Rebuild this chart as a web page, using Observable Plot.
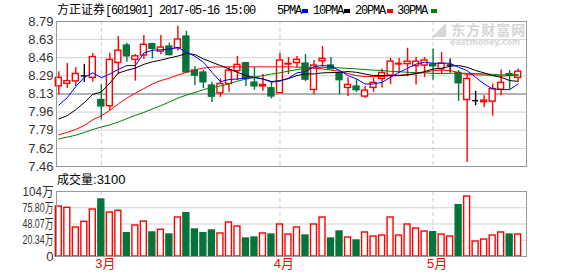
<!DOCTYPE html>
<html><head><meta charset="utf-8">
<script src="https://cdn.jsdelivr.net/npm/d3@7"></script>
<script src="https://cdn.jsdelivr.net/npm/@observablehq/plot@0.6"></script>
<style>
body{margin:0;background:#fff;}
#wrap{position:relative;width:578px;height:276px;overflow:hidden;font-family:"Liberation Sans",Arial,"Noto Sans CJK SC",sans-serif;}
.abs{position:absolute;white-space:nowrap;line-height:14px;color:#000;}
.mono{font-family:"Liberation Mono","DejaVu Sans Mono","Noto Sans CJK SC",monospace;font-size:12px;letter-spacing:-1.2px;}
.cjk{font-family:"Noto Sans CJK SC",sans-serif;font-size:12px;}
.sq{position:absolute;width:6px;height:4px;top:9px;}
</style></head><body><div id="wrap">
<div class="abs" style="left:432px;top:22px;height:14px;color:#d6d6d6;font-family:'Noto Sans CJK SC',sans-serif;font-size:14px;font-weight:bold;line-height:14px;letter-spacing:1px">◢ 东方财富网</div>
<div class="abs" style="left:450px;top:39px;height:8px;color:#d9d9d9;font-family:'DejaVu Sans',sans-serif;font-size:8px;font-weight:bold;line-height:8px">eastmoney.com</div>
</div>
<script>
// categories: trading-day index (Feb 22 2017 .. May 16 2017)
const days = d3.range(55);
const monthIdx = [5, 26, 44];
const monthLabels = ["3月", "4月", "5月"];

const open  = [8.195,8.218,8.240,8.291,8.273,8.070,8.013,8.410,8.569,8.438,8.478,8.581,8.514,8.560,8.546,8.652,8.340,8.321,8.202,8.131,8.217,8.335,8.407,8.229,8.195,8.177,8.133,8.396,8.409,8.404,8.162,8.425,8.386,8.315,8.181,8.193,8.101,8.181,8.263,8.294,8.396,8.399,8.381,8.386,8.395,8.353,8.390,8.318,8.070,8.064,8.050,8.055,8.165,8.307,8.273];
const high  = [8.330,8.404,8.367,8.397,8.496,8.211,8.499,8.652,8.591,8.487,8.661,8.590,8.661,8.592,8.747,8.701,8.376,8.340,8.232,8.263,8.370,8.468,8.413,8.370,8.303,8.239,8.499,8.459,8.468,8.487,8.432,8.560,8.459,8.326,8.275,8.257,8.193,8.271,8.355,8.453,8.453,8.545,8.459,8.459,8.537,8.505,8.445,8.340,8.300,8.151,8.110,8.217,8.346,8.340,8.355];
const low   = [8.119,8.177,8.193,8.232,8.232,7.889,7.972,8.303,8.416,8.243,8.441,8.447,8.484,8.475,8.520,8.318,8.202,8.174,8.048,8.094,8.140,8.248,8.193,8.160,8.151,8.080,8.128,8.303,8.363,8.239,8.119,8.370,8.349,8.119,8.101,8.140,8.085,8.140,8.179,8.211,8.312,8.285,8.208,8.275,8.252,8.303,8.318,8.057,7.497,8.018,8.000,7.921,8.110,8.165,8.238];
const close = [8.273,8.243,8.309,8.291,8.464,8.011,8.438,8.523,8.471,8.471,8.576,8.539,8.551,8.482,8.625,8.324,8.294,8.232,8.101,8.217,8.340,8.392,8.263,8.195,8.208,8.103,8.432,8.402,8.438,8.257,8.386,8.447,8.353,8.252,8.208,8.160,8.156,8.227,8.318,8.422,8.402,8.422,8.422,8.432,8.379,8.404,8.390,8.223,8.263,8.064,8.064,8.170,8.227,8.294,8.330];
// volume in 万
const volume = [77.9,75.7,42.1,51.8,72.8,89.9,67.7,70.6,32.4,45.5,52.3,33.6,38.2,30.1,59.2,66.5,38.7,32.4,37.0,31.9,50.6,43.8,23.3,25.0,31.9,30.1,47.2,30.1,42.1,28.4,47.2,59.2,23.3,35.3,25.0,19.9,33.6,26.7,28.4,59.2,28.4,47.2,40.4,35.3,34.1,30.1,26.7,80.2,95.0,18.2,21.6,28.4,33.6,30.1,30.1];

const ma5  = [8.023,8.092,8.193,8.278,8.319,8.275,8.308,8.351,8.386,8.386,8.501,8.526,8.530,8.537,8.551,8.510,8.471,8.416,8.324,8.239,8.257,8.263,8.271,8.275,8.263,8.234,8.243,8.271,8.319,8.331,8.377,8.386,8.379,8.340,8.294,8.263,8.217,8.217,8.232,8.278,8.324,8.361,8.399,8.416,8.407,8.407,8.407,8.370,8.340,8.278,8.217,8.172,8.165,8.165,8.217];
const ma10 = [7.896,7.926,7.981,8.046,8.122,8.144,8.225,8.317,8.342,8.363,8.397,8.420,8.436,8.455,8.473,8.496,8.487,8.447,8.416,8.386,8.355,8.324,8.294,8.278,8.263,8.239,8.248,8.266,8.294,8.309,8.309,8.319,8.321,8.324,8.331,8.324,8.308,8.294,8.294,8.294,8.294,8.300,8.312,8.331,8.355,8.361,8.379,8.386,8.370,8.340,8.319,8.294,8.278,8.248,8.241];
const ma20 = [7.750,7.773,7.800,7.837,7.889,7.926,7.975,8.034,8.087,8.133,8.174,8.217,8.248,8.271,8.298,8.324,8.346,8.363,8.372,8.374,8.374,8.374,8.374,8.374,8.374,8.374,8.374,8.374,8.372,8.367,8.363,8.355,8.344,8.335,8.312,8.294,8.285,8.285,8.285,8.294,8.298,8.303,8.312,8.324,8.340,8.344,8.340,8.321,8.303,8.300,8.300,8.294,8.289,8.294,8.294];
const ma30 = [7.712,7.730,7.747,7.772,7.800,7.822,7.842,7.868,7.899,7.929,7.956,7.988,8.018,8.052,8.087,8.115,8.138,8.165,8.184,8.199,8.216,8.243,8.262,8.280,8.294,8.308,8.319,8.335,8.349,8.358,8.365,8.367,8.367,8.365,8.360,8.355,8.349,8.344,8.340,8.333,8.329,8.324,8.321,8.319,8.315,8.312,8.315,8.315,8.315,8.312,8.309,8.306,8.300,8.301,8.303];

const priceTicks  = [7.46, 7.626, 7.793, 7.959, 8.125, 8.291, 8.458, 8.624, 8.79];
const priceLabels = ["7.46","7.62","7.79","7.96","8.13","8.29","8.46","8.63","8.79"];
const volTicks  = [-7.39, 20.34, 48.07, 75.80, 103.53];
const volLabels = ["0","20.34万","48.07万","75.80万","104万"];

const RED = "#f00", GREEN = "#06743a", BLACK = "#000";
const HW = 0.35; // half body width, in day units
const rows = days.map((d, k) => ({i: d, o: open[k], h: high[k], l: low[k], c: close[k], v: volume[k],
  m5: ma5[k], m10: ma10[k], m20: ma20[k], m30: ma30[k]}));
const col = d => d.c > d.o ? RED : d.c < d.o ? GREEN : BLACK;
const left = d => d.i - HW, right = d => d.i + HW;

const xOpt = () => ({type: "linear", domain: [-0.27, 54.98], axis: null});
const baseStyle = {background: "transparent", fontFamily: "'Liberation Sans',Arial,'Noto Sans CJK SC',sans-serif", fontSize: "13px", color: "#333", overflow: "visible"};

const pLab = new Map(priceTicks.map((v, k) => [v, priceLabels[k]]));
const price = Plot.plot({
  width: 578, height: 170, marginLeft: 56, marginRight: 52, marginTop: 21, marginBottom: 4,
  style: baseStyle,
  x: xOpt(),
  y: {domain: [7.46, 8.79], ticks: priceTicks, tickFormat: d => pLab.get(d), tickSize: 0, tickPadding: 3, label: null},
  color: {type: "identity"},
  marks: [
    Plot.ruleY(priceTicks.filter(v => v !== 8.125), {stroke: "#d2d2d2"}),
    Plot.ruleY([8.125], {stroke: "#999", strokeWidth: 1.5}),
    Plot.ruleX(monthIdx, {stroke: "#ccc", strokeDasharray: "4,3"}),
    Plot.ruleX(rows, {x: "i", y1: "l", y2: "h", stroke: col, strokeWidth: 1.4}),
    Plot.rect(rows.filter(d => d.c !== d.o), {x1: left, x2: right, y1: "o", y2: "c", fill: d => d.c > d.o ? "#fff" : GREEN, stroke: col, strokeWidth: 1.4}),
    Plot.ruleY(rows.filter(d => d.c === d.o), {x1: left, x2: right, y: "c", stroke: BLACK, strokeWidth: 1.4}),
    Plot.line(rows, {x: "i", y: "m30", stroke: "#008000", strokeWidth: 1}),
    Plot.line(rows, {x: "i", y: "m20", stroke: "#f00", strokeWidth: 1}),
    Plot.line(rows, {x: "i", y: "m10", stroke: "#000", strokeWidth: 1}),
    Plot.line(rows, {x: "i", y: "m5", stroke: "#00f", strokeWidth: 1}),
    Plot.frame({stroke: "#999"})
  ]
});

const vLab = new Map(volTicks.map((v, k) => [v, volLabels[k]]));
const vol = Plot.plot({
  width: 578, height: 106, marginLeft: 56, marginRight: 52, marginTop: 21, marginBottom: 20,
  style: baseStyle,
  x: xOpt(),
  y: {domain: [volTicks[0], volTicks[4]], ticks: volTicks, tickFormat: d => vLab.get(d), tickSize: 0, tickPadding: 3, label: null},
  color: {type: "identity"},
  marks: [
    Plot.ruleY(volTicks, {stroke: "#d2d2d2"}),
    Plot.ruleX(monthIdx, {stroke: "#ccc", strokeDasharray: "4,3"}),
    Plot.rect(rows, {x1: left, x2: right, y1: volTicks[0], y2: "v", fill: d => d.c < d.o ? GREEN : "#fff", stroke: d => d.c < d.o ? GREEN : RED, strokeWidth: 1.4}),
    Plot.text(monthIdx, {x: d => d, text: (d, k) => monthLabels[k], frameAnchor: "bottom", dy: 11, dx: 4, fill: RED, fontSize: 13}),
    Plot.frame({stroke: "#999"})
  ]
});

d3.select(vol).selectAll('g[aria-label="y-axis tick label"] text').each(function () {
  if (this.textContent !== "0") { this.setAttribute("textLength", 31); this.setAttribute("lengthAdjust", "spacingAndGlyphs"); }
});

const wrap = document.getElementById("wrap");
for (const [svg, top] of [[price, 0], [vol, 170]]) {
  svg.style.position = "absolute"; svg.style.left = "0px"; svg.style.top = top + "px";
  wrap.appendChild(svg);
}

function addDiv(html, lx, top) {
  const d = document.createElement("div");
  d.className = "abs";
  d.style.left = lx + "px"; d.style.top = top + "px";
  d.innerHTML = html;
  wrap.appendChild(d);
  return d;
}
addDiv('<span class="cjk">方正证券</span><span class="mono">[601901] 2017-05-16 15:00</span>', 57, 2);
const legend = [["5PMA", 277, 302, "#00f"], ["10PMA", 313, 344, "#000"], ["20PMA", 355, 387, "#f00"], ["30PMA", 397, 431, "#008000"]];
for (const [t, lx, sx, c] of legend) {
  addDiv('<span class="mono">' + t + '</span>', lx, 2);
  const s = document.createElement("div");
  s.className = "sq"; s.style.left = sx + "px"; s.style.background = c;
  wrap.appendChild(s);
}
addDiv('<span class="cjk">成交量</span><span style="font-size:13px">:3100</span>', 57, 172);
</script>
</body></html>
